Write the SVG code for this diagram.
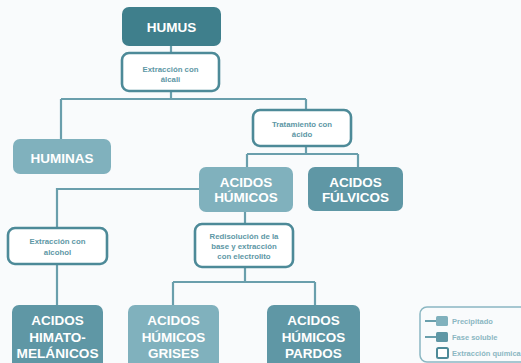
<svg xmlns="http://www.w3.org/2000/svg" width="521" height="363" viewBox="0 0 521 363">
  <style>
    .line { fill: none; stroke: #6a9fac; stroke-width: 2.2; }
    .dark { fill: #3f7f8c; }
    .mid { fill: #5f97a5; }
    .light { fill: #80b1bd; }
    .step { fill: #ffffff; stroke: #4d8a98; stroke-width: 2.6; }
    .big { font-family: "Liberation Sans", Arial, sans-serif; font-weight: bold; font-size: 13.5px; fill: #ffffff; text-anchor: middle; }
    .small { font-family: "Liberation Sans", Arial, sans-serif; font-weight: bold; font-size: 7.8px; fill: #5d97a5; text-anchor: middle; }
    .legend { font-family: "Liberation Sans", Arial, sans-serif; font-weight: bold; font-size: 7.5px; fill: #8bb7c2; }
  </style>
  <rect width="521" height="363" fill="#f9fbfc"/>

  <g id="connectors">
    <path class="line" d="M171 46 V53"/>
    <path class="line" d="M171 91 V99 M61 99 H306 M61 99 V139 M306 99 V110"/>
    <path class="line" d="M306 146 V154 M247 154 H358 M247 154 V167 M358 154 V167"/>
    <path class="line" d="M200 189 H57 V228"/>
    <path class="line" d="M245 212 V224"/>
    <path class="line" d="M57 264 V305"/>
    <path class="line" d="M245 267 V282 M173 282 H315 M173 282 V305 M315 282 V305"/>
  </g>

  <g id="humus">
    <rect class="dark" x="122" y="7" width="99" height="39" rx="7"/>
    <text class="big" x="171.5" y="31.5">HUMUS</text>
  </g>

  <g id="extraccion-alcali">
    <rect class="step" x="122" y="53" width="97" height="38" rx="7"/>
    <text class="small" x="170.5" y="72">Extracción con</text>
    <text class="small" x="170.5" y="82">álcali</text>
  </g>

  <g id="huminas">
    <rect class="light" x="13" y="139" width="98" height="35" rx="7"/>
    <text class="big" x="62" y="162.5">HUMINAS</text>
  </g>

  <g id="tratamiento-acido">
    <rect class="step" x="253" y="110" width="98" height="36" rx="7"/>
    <text class="small" x="302" y="127">Tratamiento con</text>
    <text class="small" x="302" y="137">ácido</text>
  </g>

  <g id="acidos-humicos">
    <rect class="light" x="199" y="167" width="94" height="45" rx="7"/>
    <text class="big" x="246" y="187">ACIDOS</text>
    <text class="big" x="246" y="202">HÚMICOS</text>
  </g>

  <g id="acidos-fulvicos">
    <rect class="mid" x="308" y="167" width="95" height="44" rx="7"/>
    <text class="big" x="355.5" y="187">ACIDOS</text>
    <text class="big" x="355.5" y="202">FÚLVICOS</text>
  </g>

  <g id="extraccion-alcohol">
    <rect class="step" x="8" y="228" width="99" height="36" rx="7"/>
    <text class="small" x="57.5" y="244">Extracción con</text>
    <text class="small" x="57.5" y="255">alcohol</text>
  </g>

  <g id="redisolucion">
    <rect class="step" x="195" y="224" width="98" height="43" rx="7"/>
    <text class="small" x="244" y="239">Redisolución de la</text>
    <text class="small" x="244" y="249">base y extracción</text>
    <text class="small" x="244" y="259">con electrolito</text>
  </g>

  <g id="acidos-himatomelanicos">
    <rect class="mid" x="12" y="305" width="91" height="66" rx="7"/>
    <text class="big" x="57.5" y="325">ACIDOS</text>
    <text class="big" x="57.5" y="341.5">HIMATO-</text>
    <text class="big" x="57.5" y="358" textLength="82" lengthAdjust="spacingAndGlyphs">MELÁNICOS</text>
  </g>

  <g id="acidos-humicos-grises">
    <rect class="light" x="128" y="305" width="91" height="66" rx="7"/>
    <text class="big" x="173.5" y="325">ACIDOS</text>
    <text class="big" x="173.5" y="341.5">HÚMICOS</text>
    <text class="big" x="173.5" y="358">GRISES</text>
  </g>

  <g id="acidos-humicos-pardos">
    <rect class="mid" x="267" y="305" width="93" height="66" rx="7"/>
    <text class="big" x="313.5" y="325">ACIDOS</text>
    <text class="big" x="313.5" y="341.5">HÚMICOS</text>
    <text class="big" x="313.5" y="358">PARDOS</text>
  </g>

  <g id="legend">
    <rect x="420" y="307" width="110" height="55" rx="7" fill="none" stroke="#8bb7c2" stroke-width="1.5"/>
    <path d="M425 321 H437 M425 337 H437" stroke="#6a9fac" stroke-width="2"/>
    <rect class="light" x="436" y="316" width="12" height="10" rx="1.5"/>
    <rect class="mid" x="436" y="332" width="12" height="10" rx="1.5"/>
    <rect x="437" y="348" width="11" height="10" rx="1.5" fill="#ffffff" stroke="#4d8a98" stroke-width="2"/>
    <text class="legend" x="452" y="324">Precipitado</text>
    <text class="legend" x="452" y="340">Fase soluble</text>
    <text class="legend" x="452" y="356">Extracción química</text>
  </g>
</svg>
